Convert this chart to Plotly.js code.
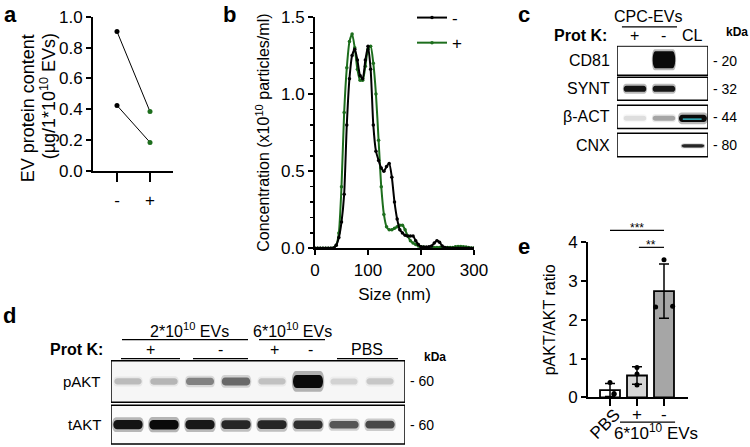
<!DOCTYPE html>
<html>
<head>
<meta charset="utf-8">
<script src="https://cdn.plot.ly/plotly-3.0.1.min.js"></script>
<style>html,body{margin:0;padding:0;background:#fff;}#chart{width:750px;height:447px;}</style>
</head>
<body>
<div id="chart"></div>
<script>
// ---------------- DATA ----------------
// Panel a: EV protein content (µg per 1e10 EVs), paired replicates
const protCondLabels = ['-', '+'];
const evProteinMinus = [0.905, 0.425];
const evProteinPlus  = [0.385, 0.185];

// Panel b: NTA size distribution (x10^10 particles/ml)
const sizeNm = [0,5,10,15,20,25,30,35,40,45,50,55,60,65,70,75,80,85,90,95,100,105,110,115,120,125,130,135,140,145,150,155,160,165,170,175,180,185,190,195,200,205,210,215,220,225,230,235,240,245,250,255,260,265,270,275,280,285,290,295,300];
const concMinus = [0,0,0,0,0,0,0,0.002,0.02,0.07,0.17,0.35,0.80,1.10,1.25,1.29,1.22,1.12,1.10,1.22,1.31,1.16,0.80,0.63,0.57,0.52,0.50,0.53,0.55,0.46,0.30,0.19,0.12,0.10,0.085,0.08,0.08,0.08,0.05,0.025,0.01,0.008,0.008,0.01,0.015,0.035,0.05,0.04,0.015,0.005,0.002,0,0,0,0,0,0,0,0,0,0];
const concPlus  = [0,0,0,0,0,0,0,0.003,0.02,0.10,0.40,0.88,1.17,1.34,1.39,1.30,1.16,1.09,1.09,1.18,1.29,1.31,1.20,1.00,0.70,0.40,0.22,0.14,0.12,0.12,0.13,0.14,0.15,0.15,0.12,0.08,0.05,0.035,0.025,0.015,0.01,0.008,0.005,0.005,0.005,0.005,0.005,0.005,0.005,0.005,0.005,0.005,0.006,0.01,0.012,0.012,0.01,0.008,0.005,0.003,0.002];
const ntaSeriesNames = ['-', '+'];

// Panel c: western blot (lanes: Prot K +, Prot K -, CL)
const cLanes = ['+', '-', 'CL'];
const cProteins = ['CD81', 'SYNT', '\u03b2-ACT', 'CNX'];
const cMarkers = ['20', '32', '44', '80'];
const cIntensity = [
  [0.00, 1.00, 0.00],
  [0.95, 0.92, 0.00],
  [0.10, 0.30, 1.00],
  [0.00, 0.00, 0.85]
];
const cSaturated = [
  [0,0,0],[0,0,0],[0,0,1],[0,0,0]
];

// Panel d: western blot pAKT / tAKT (8 lanes)
const dProteins = ['pAKT', 'tAKT'];
const dMarkers = ['60', '60'];
const dIntensity = [
  [0.20, 0.22, 0.42, 0.52, 0.18, 1.00, 0.12, 0.16],
  [0.95, 1.00, 0.92, 0.85, 0.85, 0.80, 0.62, 0.68]
];

// Panel e: pAKT/AKT ratio
const eCategories = ['PBS', '+', '-'];
const ePoints = [
  [0.38, 0.10, 0.08],
  [0.77, 0.60, 0.32],
  [3.55, 2.33, 2.35]
];
const eBarColors = ['#ffffff', '#d6d6d6', '#a6a6a6'];

// ---------------- HELPERS ----------------
const W = 750, H = 447;
const px = v => v / W;
const py = v => 1 - v / H;
const FONT = 'Liberation Sans, Arial, Helvetica, sans-serif';
const BLACK = '#000000';
const GREEN = '#1d6e1d';

const mean = a => a.reduce((s, v) => s + v, 0) / a.length;
const sd = a => { const m = mean(a); return Math.sqrt(a.reduce((s, v) => s + (v - m) * (v - m), 0) / (a.length - 1)); };

const axisStyle = {
  showline: true, linecolor: BLACK, linewidth: 2, ticks: 'outside', tickwidth: 2, ticklen: 5,
  tickcolor: BLACK, showgrid: false, zeroline: false, fixedrange: true,
  tickfont: {family: FONT, size: 17, color: BLACK}
};
const hiddenAxis = {visible: false, showgrid: false, zeroline: false, fixedrange: true};

const traces = [];
const shapes = [];
const annotations = [];

// ---------------- PANEL A ----------------
for (let i = 0; i < evProteinMinus.length; i++) {
  traces.push({
    type: 'scatter', mode: 'lines+markers', xaxis: 'x', yaxis: 'y',
    x: [0, 1], y: [evProteinMinus[i], evProteinPlus[i]],
    line: {color: BLACK, width: 1},
    marker: {color: [BLACK, GREEN], size: 5},
    showlegend: false, hoverinfo: 'skip'
  });
}
annotations.push({text: 'EV protein content', xref: 'paper', yref: 'paper', x: px(28), y: py(106), xanchor: 'center', yanchor: 'middle',
  textangle: -90, showarrow: false, font: {family: FONT, size: 18, color: BLACK}});
annotations.push({text: '(µg/1*10<sup>10</sup> EVs)', xref: 'paper', yref: 'paper', x: px(48), y: py(94), xanchor: 'center', yanchor: 'middle',
  textangle: -90, showarrow: false, font: {family: FONT, size: 18, color: BLACK}});

// ---------------- PANEL B ----------------
traces.push({
  type: 'scatter', mode: 'lines+markers', xaxis: 'x2', yaxis: 'y2',
  name: ntaSeriesNames[1], x: sizeNm, y: concPlus,
  line: {color: GREEN, width: 2, shape: 'spline', smoothing: 0.6},
  marker: {color: GREEN, size: 3.5}, legendrank: 2, legendgroup: 'p'
});
traces.push({
  type: 'scatter', mode: 'lines+markers', xaxis: 'x2', yaxis: 'y2',
  name: ntaSeriesNames[0], x: sizeNm, y: concMinus,
  line: {color: BLACK, width: 2, shape: 'spline', smoothing: 0.6},
  marker: {color: BLACK, size: 3.5}, legendrank: 1, legendgroup: 'm'
});

// ---------------- PANEL E ----------------
const eMeans = ePoints.map(mean);
const eSds = ePoints.map(sd);
const eIdx = eCategories.map((_, i) => i);
traces.push({
  type: 'bar', xaxis: 'x3', yaxis: 'y3', x: eIdx, y: eMeans, width: 0.74,
  marker: {color: eBarColors, line: {color: BLACK, width: 1.8}},
  error_y: {type: 'data', array: eSds, visible: true, color: BLACK, thickness: 1.5, width: 5},
  showlegend: false, hoverinfo: 'skip'
});
const jitter = [[0, 0.15, 0.15], [0, 0, 0], [0, -0.31, 0.32]];
const ptX = [], ptY = [];
ePoints.forEach((pts, i) => pts.forEach((v, j) => { ptX.push(i + jitter[i][j]); ptY.push(v); }));
traces.push({
  type: 'scatter', mode: 'markers', xaxis: 'x3', yaxis: 'y3', x: ptX, y: ptY,
  marker: {color: BLACK, size: 5}, showlegend: false, hoverinfo: 'skip'
});

// ---------------- BLOT HELPERS ----------------
function bandPath(xc, yc, hw, hh) {
  const xl = xc - hw, xr = xc + hw, yt = yc - hh, yb = yc + hh, rx = hw * 0.3;
  return `M ${xl + rx},${yt} L ${xr - rx},${yt} C ${xr},${yt} ${xr},${yb} ${xr - rx},${yb} ` +
         `L ${xl + rx},${yb} C ${xl},${yb} ${xl},${yt} ${xl + rx},${yt} Z`;
}
function addBand(xr, yr, xc, yc, hw, hh, alpha, halo) {
  if (alpha <= 0) return;
  shapes.push({type: 'path', xref: xr, yref: yr, path: bandPath(xc, yc, hw * 1.08, hh * halo),
    fillcolor: `rgba(15,15,15,${(alpha * 0.3).toFixed(3)})`, line: {width: 0}});
  shapes.push({type: 'path', xref: xr, yref: yr, path: bandPath(xc, yc, hw, hh),
    fillcolor: `rgba(10,10,10,${alpha.toFixed(3)})`, line: {width: 0}});
}

// ---------------- PANEL C (blot) ----------------
const cXRange = [0.38, 3.52];
const cYRange = [3.46, -0.53];
const cBoxHalf = [0.52, 0.41, 0.41, 0.42];
const cBandHH = [0.30, 0.11, 0.09, 0.055];
const cBandOff = [-0.03, 0.0, 0.05, 0.03];
traces.push({type: 'scatter', mode: 'markers', xaxis: 'x4', yaxis: 'y4', x: [1, 2, 3], y: [0, 1, 2],
  marker: {opacity: 0}, showlegend: false, hoverinfo: 'skip'});
cProteins.forEach((p, r) => {
  shapes.push({type: 'rect', xref: 'x4', yref: 'y4', x0: cXRange[0], x1: cXRange[1],
    y0: r - cBoxHalf[r], y1: r + cBoxHalf[r], fillcolor: '#ffffff', line: {width: 0}});
  cIntensity[r].forEach((v, l) => {
    const hh = (r === 2 && l === 2) ? 0.13 : cBandHH[r];
    const hw = (r === 2 && l === 2) ? 0.52 : 0.42;
    addBand('x4', 'y4', l + 1, r + cBandOff[r], hw, hh, v, r === 0 ? 1.25 : 1.6);
    if (cSaturated[r][l]) {
      shapes.push({type: 'line', xref: 'x4', yref: 'y4', x0: l + 1 - 0.35, x1: l + 1 + 0.3,
        y0: r + cBandOff[r] + 0.03, y1: r + cBandOff[r] + 0.03, line: {color: '#3fd3e3', width: 1.2}});
    }
  });
  shapes.push({type: 'rect', xref: 'x4', yref: 'y4', x0: cXRange[0], x1: cXRange[1],
    y0: r - cBoxHalf[r], y1: r + cBoxHalf[r], line: {color: BLACK, width: 1.5}});
  annotations.push({text: p, xref: 'paper', yref: 'y4', x: px(612), y: r, xanchor: 'right', yanchor: 'middle',
    showarrow: false, font: {family: FONT, size: 16, color: BLACK}});
  annotations.push({text: '- ' + cMarkers[r], xref: 'paper', yref: 'y4', x: px(711), y: r, xanchor: 'left', yanchor: 'middle',
    showarrow: false, font: {family: FONT, size: 14, color: BLACK}});
});
cLanes.forEach((t, l) => {
  annotations.push({text: t, xref: 'x4', yref: 'paper', x: l + 1, y: py(33), xanchor: 'center', yanchor: 'middle',
    showarrow: false, font: {family: FONT, size: 16, color: BLACK}});
});
annotations.push({text: 'CPC-EVs', xref: 'paper', yref: 'paper', x: px(648), y: py(14), xanchor: 'center', yanchor: 'middle',
  showarrow: false, font: {family: FONT, size: 16, color: BLACK}});
shapes.push({type: 'line', xref: 'x4', yref: 'paper', x0: 0.55, x1: 2.45, y0: py(24), y1: py(24), line: {color: BLACK, width: 1.2}});
annotations.push({text: '<b>Prot K:</b>', xref: 'paper', yref: 'paper', x: px(609), y: py(33), xanchor: 'right', yanchor: 'middle',
  showarrow: false, font: {family: FONT, size: 16, color: BLACK}});
annotations.push({text: '<b>kDa</b>', xref: 'paper', yref: 'paper', x: px(737), y: py(29), xanchor: 'center', yanchor: 'middle',
  showarrow: false, font: {family: FONT, size: 12, color: BLACK}});

// ---------------- PANEL D (blot) ----------------
const dXRange = [0.528, 8.694];
const dYRange = [1.494, -0.506];
const dBoxHalf = [0.48, 0.45];
traces.push({type: 'scatter', mode: 'markers', xaxis: 'x5', yaxis: 'y5', x: [1, 8], y: [0, 1],
  marker: {opacity: 0}, showlegend: false, hoverinfo: 'skip'});
dProteins.forEach((p, r) => {
  shapes.push({type: 'rect', xref: 'x5', yref: 'y5', x0: dXRange[0], x1: dXRange[1],
    y0: r - dBoxHalf[r], y1: r + dBoxHalf[r], fillcolor: r === 0 ? '#f6f6f6' : '#fbfbfb', line: {width: 0}});
  dIntensity[r].forEach((v, l) => {
    const hh = r === 0 ? 0.07 + 0.08 * v * v : 0.05 + 0.06 * v;
    const hw = r === 0 ? 0.40 + 0.05 * v : 0.44;
    addBand('x5', 'y5', l + 1, r, hw, hh, v, 1.6);
  });
  shapes.push({type: 'rect', xref: 'x5', yref: 'y5', x0: dXRange[0], x1: dXRange[1],
    y0: r - dBoxHalf[r], y1: r + dBoxHalf[r], line: {color: BLACK, width: 1.5}});
  annotations.push({text: p, xref: 'paper', yref: 'y5', x: px(103), y: r, xanchor: 'right', yanchor: 'middle',
    showarrow: false, font: {family: FONT, size: 15, color: BLACK}});
  annotations.push({text: '- ' + dMarkers[r], xref: 'paper', yref: 'y5', x: px(408), y: r, xanchor: 'left', yanchor: 'middle',
    showarrow: false, font: {family: FONT, size: 14, color: BLACK}});
});
const dHeadTop = [
  {t: '2*10<sup>10</sup> EVs', c: 189, l0: 122, l1: 248},
  {t: '6*10<sup>10</sup> EVs', c: 292, l0: 259, l1: 325}
];
dHeadTop.forEach(h => {
  annotations.push({text: h.t, xref: 'paper', yref: 'paper', x: px(h.c), y: py(329), xanchor: 'center', yanchor: 'middle',
    showarrow: false, font: {family: FONT, size: 16, color: BLACK}});
  shapes.push({type: 'line', xref: 'paper', yref: 'paper', x0: px(h.l0), x1: px(h.l1), y0: py(339), y1: py(339), line: {color: BLACK, width: 1.2}});
});
const dHeadProt = [
  {t: '+', c: 150, l0: 121, l1: 180},
  {t: '-', c: 220, l0: 193, l1: 248},
  {t: '+', c: 274},
  {t: '-', c: 310},
  {t: 'PBS', c: 367, l0: 337, l1: 398}
];
dHeadProt.forEach(h => {
  annotations.push({text: h.t, xref: 'paper', yref: 'paper', x: px(h.c), y: py(349), xanchor: 'center', yanchor: 'middle',
    showarrow: false, font: {family: FONT, size: 16, color: BLACK}});
  if (h.l0 !== undefined) shapes.push({type: 'line', xref: 'paper', yref: 'paper', x0: px(h.l0), x1: px(h.l1), y0: py(358), y1: py(358), line: {color: BLACK, width: 1.2}});
});
annotations.push({text: '<b>Prot K:</b>', xref: 'paper', yref: 'paper', x: px(105), y: py(349), xanchor: 'right', yanchor: 'middle',
  showarrow: false, font: {family: FONT, size: 16, color: BLACK}});
annotations.push({text: '<b>kDa</b>', xref: 'paper', yref: 'paper', x: px(435), y: py(356), xanchor: 'center', yanchor: 'middle',
  showarrow: false, font: {family: FONT, size: 12, color: BLACK}});

// ---------------- PANEL E extra text ----------------
annotations.push({text: eCategories[0], xref: 'x3', yref: 'paper', x: -0.2, y: py(424), xanchor: 'center', yanchor: 'middle', textangle: -45,
  showarrow: false, font: {family: FONT, size: 17, color: BLACK}});
[1, 2].forEach(i => annotations.push({text: eCategories[i], xref: 'x3', yref: 'paper', x: i, y: py(414), xanchor: 'center', yanchor: 'middle',
  showarrow: false, font: {family: FONT, size: 17, color: BLACK}}));
shapes.push({type: 'line', xref: 'x3', yref: 'paper', x0: 0.37, x1: 2.41, y0: py(422), y1: py(422), line: {color: BLACK, width: 1.2}});
annotations.push({text: '6*10<sup>10</sup> EVs', xref: 'paper', yref: 'paper', x: px(656), y: py(432), xanchor: 'center', yanchor: 'middle',
  showarrow: false, font: {family: FONT, size: 17, color: BLACK}});
shapes.push({type: 'line', xref: 'x3', yref: 'paper', x0: 0, x1: 2, y0: py(229), y1: py(229), line: {color: BLACK, width: 1.2}});
shapes.push({type: 'line', xref: 'x3', yref: 'paper', x0: 1.07, x1: 2, y0: py(246), y1: py(246), line: {color: BLACK, width: 1.2}});
annotations.push({text: '***', xref: 'x3', yref: 'paper', x: 1, y: py(227), xanchor: 'center', yanchor: 'middle',
  showarrow: false, font: {family: FONT, size: 12, color: BLACK}});
annotations.push({text: '**', xref: 'x3', yref: 'paper', x: 1.53, y: py(244), xanchor: 'center', yanchor: 'middle',
  showarrow: false, font: {family: FONT, size: 12, color: BLACK}});

// ---------------- PANEL LETTERS ----------------
[['a', 2, 12], ['b', 221, 12], ['c', 516, 12], ['d', 1, 315], ['e', 516, 245]].forEach(([t, x, y]) => {
  annotations.push({text: '<b>' + t + '</b>', xref: 'paper', yref: 'paper', x: px(x), y: py(y), xanchor: 'left', yanchor: 'middle',
    showarrow: false, font: {family: FONT, size: 22, color: BLACK}});
});

// ---------------- LAYOUT ----------------
const layout = {
  width: W, height: H, margin: {l: 0, r: 0, t: 0, b: 0, pad: 0},
  paper_bgcolor: '#ffffff', plot_bgcolor: 'rgba(0,0,0,0)',
  font: {family: FONT, color: BLACK, size: 16},
  showlegend: true,
  legend: {x: px(412), y: py(-3), xanchor: 'left', yanchor: 'top', bgcolor: 'rgba(0,0,0,0)', borderwidth: 0,
    font: {family: FONT, size: 17, color: BLACK}, itemwidth: 30, tracegroupgap: 2, traceorder: 'normal'},
  xaxis: Object.assign({}, axisStyle, {domain: [px(93), px(173)], range: [-0.727, 1.697], anchor: 'y',
    tickvals: [0, 1], ticktext: protCondLabels, ticklen: 9, ticklabelstandoff: 4}),
  yaxis: Object.assign({}, axisStyle, {domain: [py(169), py(14)], range: [0, 1], anchor: 'x', dtick: 0.2, tickformat: '.1f'}),
  xaxis2: Object.assign({}, axisStyle, {domain: [px(315), px(474)], range: [0, 300], anchor: 'y2', dtick: 100,
    title: {text: 'Size (nm)', font: {family: FONT, size: 17, color: BLACK}, standoff: 9}}),
  yaxis2: Object.assign({}, axisStyle, {domain: [py(247), py(14)], range: [0, 1.5], anchor: 'x2', dtick: 0.5, tickformat: '.1f',
    minor: {dtick: 0.1, ticklen: 3, tickwidth: 1.5, tickcolor: BLACK, ticks: 'outside', showgrid: false},
    title: {text: 'Concentration (x10<sup>10</sup> particles/ml)', font: {family: FONT, size: 16, color: BLACK}, standoff: 7}}),
  xaxis3: Object.assign({}, axisStyle, {domain: [px(588), px(688)], range: [-0.815, 2.889], anchor: 'y3',
    tickvals: [0, 1, 2], showticklabels: false, ticklen: 7}),
  yaxis3: Object.assign({}, axisStyle, {domain: [py(397), py(241)], range: [0, 4], anchor: 'x3', dtick: 1,
    title: {text: 'pAKT/AKT ratio', font: {family: FONT, size: 16, color: BLACK}, standoff: 9}}),
  xaxis4: Object.assign({}, hiddenAxis, {domain: [px(617), px(708)], range: cXRange, anchor: 'y4'}),
  yaxis4: Object.assign({}, hiddenAxis, {domain: [py(156), py(43)], range: cYRange, anchor: 'x4'}),
  xaxis5: Object.assign({}, hiddenAxis, {domain: [px(111), px(405)], range: dXRange, anchor: 'y5'}),
  yaxis5: Object.assign({}, hiddenAxis, {domain: [py(446), py(359)], range: dYRange, anchor: 'x5'}),
  shapes: shapes,
  annotations: annotations
};

Plotly.newPlot('chart', traces, layout, {staticPlot: true, displayModeBar: false});
</script>
</body>
</html>
